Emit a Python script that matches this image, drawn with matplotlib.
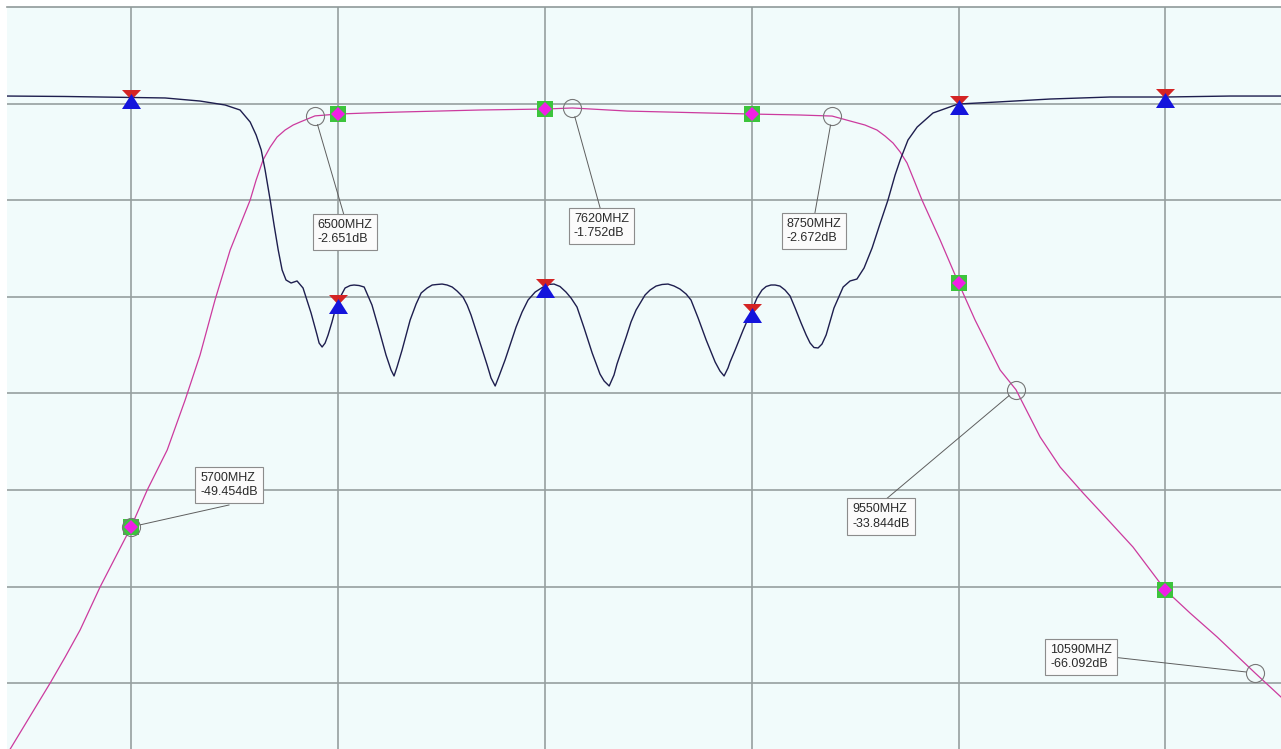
import matplotlib
matplotlib.use("Agg")
import matplotlib.pyplot as plt
import numpy as np

# return loss S11: (frequency MHz, dB)
s11_points = [
    (5160, -0.39), (5413, -0.44), (5700, -0.56), (5848, -0.61), (6000, -0.96),
    (6109, -1.41), (6174, -1.98), (6218, -3.35), (6244, -4.83), (6266, -6.53),
    (6283, -8.81), (6305, -12.23), (6322, -15.08), (6340, -17.92), (6357, -20.2),
    (6374, -21.34), (6396, -21.68), (6422, -21.45), (6448, -22.25), (6483, -25.1),
    (6509, -27.6), (6518, -28.52), (6531, -28.97), (6544, -28.52), (6557, -27.6),
    (6574, -26.12), (6596, -23.96), (6631, -22.25), (6653, -21.97), (6670, -21.91),
    (6692, -21.97), (6714, -22.14), (6748, -24.19), (6779, -27.03), (6809, -29.88),
    (6831, -31.59), (6844, -32.27), (6857, -31.25), (6879, -29.31), (6914, -25.9),
    (6940, -24.07), (6962, -22.82), (6988, -22.25), (7010, -21.91), (7031, -21.85),
    (7053, -21.8), (7075, -21.91), (7097, -22.14), (7118, -22.59), (7144, -23.28),
    (7162, -24.19), (7179, -25.33), (7210, -27.83), (7231, -29.54), (7249, -31.02),
    (7266, -32.5), (7284, -33.41), (7301, -32.27), (7327, -30.45), (7349, -28.74),
    (7375, -26.69), (7401, -24.99), (7427, -23.62), (7458, -22.71), (7492, -22.14),
    (7514, -21.85), (7540, -21.8), (7566, -22.08), (7592, -22.71), (7614, -23.39),
    (7640, -24.42), (7671, -26.81), (7706, -29.65), (7740, -32.05), (7758, -32.84),
    (7780, -33.41), (7801, -32.16), (7814, -30.91), (7854, -27.83), (7875, -26.12),
    (7897, -24.76), (7936, -23.05), (7958, -22.48), (7984, -22.03), (8010, -21.85),
    (8036, -21.8), (8062, -22.02), (8088, -22.37), (8115, -22.94), (8136, -23.62),
    (8167, -25.67), (8202, -28.17), (8241, -30.68), (8262, -31.7), (8280, -32.27),
    (8297, -31.36), (8306, -30.68), (8328, -29.31), (8363, -27.03), (8397, -24.99),
    (8423, -23.39), (8445, -22.48), (8463, -22.08), (8484, -21.91), (8502, -21.91),
    (8523, -22.03), (8545, -22.48), (8567, -23.16), (8589, -24.53), (8615, -26.24),
    (8637, -27.6), (8654, -28.51), (8671, -29.03), (8689, -29.08), (8706, -28.63),
    (8724, -27.6), (8758, -24.53), (8798, -22.14), (8828, -21.45), (8858, -21.23),
    (8889, -19.97), (8924, -17.69), (8958, -14.96), (8993, -12.23), (9024, -9.38),
    (9046, -7.68), (9080, -5.4), (9120, -3.92), (9189, -2.32), (9298, -1.3),
    (9468, -1.07), (9698, -0.73), (9959, -0.5), (10203, -0.5), (10481, -0.39),
    (10703, -0.39),
]

# insertion loss S21: (frequency MHz, dB)
s21_points = [
    (5152, -75.66), (5174, -74.75), (5261, -70.99), (5348, -67.23), (5413, -64.28),
    (5478, -61.2), (5565, -56.3), (5630, -53.0), (5700, -49.45), (5770, -45.26),
    (5857, -40.7), (5935, -35.01), (6000, -29.88), (6065, -23.62), (6131, -17.92),
    (6218, -12.23), (6244, -9.95), (6274, -7.68), (6305, -6.2), (6335, -5.06),
    (6370, -4.26), (6405, -3.69), (6435, -3.35), (6500, -2.65), (6600, -2.44),
    (6727, -2.32), (6870, -2.21), (7218, -1.98), (7500, -1.87), (7620, -1.75),
    (7858, -2.1), (8206, -2.32), (8402, -2.44), (8610, -2.55), (8750, -2.67),
    (8828, -3.23), (8893, -3.69), (8945, -4.26), (8980, -4.94), (9015, -5.74),
    (9046, -6.76), (9076, -8.02), (9106, -9.95), (9141, -12.23), (9220, -16.79),
    (9300, -21.68), (9372, -25.9), (9481, -31.59), (9550, -33.84), (9655, -39.22),
    (9742, -42.64), (9842, -45.6), (9959, -48.9), (10059, -51.75), (10200, -56.65),
    (10307, -59.26), (10425, -61.99), (10590, -66.09), (10703, -68.83),
]

# fixed markers on both traces
marker_freq = [5700, 6600, 7500, 8400, 9300, 10200]
s11_marker_db = [-0.56, -23.96, -22.14, -24.99, -1.3, -0.5]
s21_marker_db = [-49.45, -2.44, -1.87, -2.44, -21.68, -56.65]

# readout markers (circles with boxes)
read_freq = [5700, 6500, 7620, 8750, 9550, 10590]
read_db = [-49.454, -2.651, -1.752, -2.672, -33.844, -66.092]
# box offsets (points) and where the leader leaves the box
read_offset = [(70.6, 30.2), (21.6, -83.5), (20.9, -85.0), (-13.0, -82.8), (-97.2, -91.4), (-125.3, 11.5)]
read_relpos = [(0.5, -0.25), (0.5, 1), (0.5, 1), (0.5, 1), (0.5, 1), (1, 0.5)]

s11_freq, s11_db = np.array(s11_points).T
s21_freq, s21_db = np.array(s21_points).T

fig = plt.figure(figsize=(12.81, 7.49), dpi=100, facecolor='white')
ax = fig.add_axes([7 / 1281, 0, 1 - 7 / 1281, 1 - 7 / 749])
ax.set_facecolor('#f1fbfb')
ax.set_xlim(5160, 10703)
ax.set_ylim(-74.75, 9.75)

# grid
ax.set_xticks(np.arange(5700, 10700, 900))
ax.set_yticks(-1.25 - 11 * np.arange(7))
ax.tick_params(length=0, labelbottom=False, labelleft=False)
ax.grid(True, color='#969f9f', lw=1.2)
ax.set_axisbelow(True)
for side in ['left', 'right', 'bottom']:
    ax.spines[side].set_visible(False)
ax.spines['top'].set_color('#8f9999')
ax.spines['top'].set_linewidth(1.2)

# traces
ax.plot(s21_freq, s21_db, color='#cc3a9e', lw=0.9, zorder=3)
ax.plot(s11_freq, s11_db, color='#1e1e4e', lw=1.0, zorder=3)

# hourglass markers on S11 (red down / blue up), vertices in px about the point
red_tri = [(-9.5, 8.5), (9.5, 8.5), (0, -1.5)]
blue_tri = [(-9.5, -10.5), (9.5, -10.5), (0, 4.5)]
ax.plot(marker_freq, s11_marker_db, ls='none', marker=red_tri, ms=2 * 9.5 * 0.72,
        mfc='#d42424', mew=0, zorder=5)
ax.plot(marker_freq, s11_marker_db, ls='none', marker=blue_tri, ms=2 * 10.5 * 0.72,
        mfc='#1414dc', mew=0, zorder=6)

# square + diamond markers on S21
ax.plot(marker_freq, s21_marker_db, ls='none', marker='s', ms=11.5,
        mfc='#3cc43c', mew=0, zorder=5)
ax.plot(marker_freq, s21_marker_db, ls='none', marker='D', ms=7.2,
        mfc='#f01ee6', mew=0, zorder=6)

# readout circles
ax.plot(read_freq, read_db, ls='none', marker='o', ms=13, mfc='none',
        mec='#777777', mew=0.8, zorder=7)

for f, db, off, rp in zip(read_freq, read_db, read_offset, read_relpos):
    ax.annotate('%dMHZ\n%.3fdB' % (f, db), xy=(f, db), xytext=off,
                textcoords='offset points', ha='center', va='center',
                multialignment='left', fontsize=9, color='#2a2a2a',
                family=['Liberation Sans', 'DejaVu Sans'], linespacing=1.3,
                bbox=dict(boxstyle='square,pad=0.4', fc='#fbfbfb', ec='#8c8c8c', lw=0.8),
                arrowprops=dict(arrowstyle='-', color='#5e5e5e', lw=0.7,
                                relpos=rp, shrinkA=0, shrinkB=6.5, patchA=None),
                zorder=8)

fig.savefig('out.png', dpi=100, facecolor='white')
